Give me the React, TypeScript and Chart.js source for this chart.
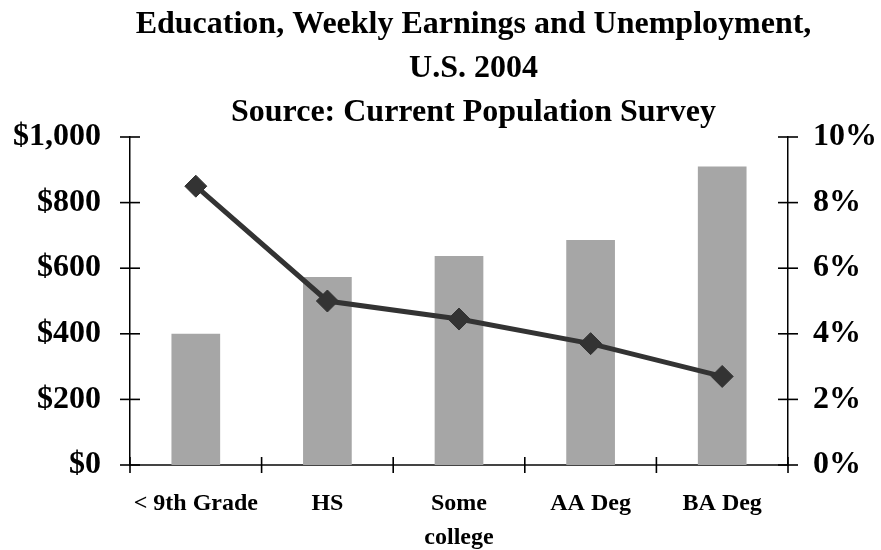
import React, { useEffect, useRef } from "react";
import { Chart, registerables } from "chart.js";

Chart.register(...registerables);

const titleLines = [
  "Education, Weekly Earnings and Unemployment,",
  "U.S. 2004",
  "Source: Current Population Survey",
];
const categories: (string | string[])[] = ["< 9th Grade", "HS", ["Some", "college"], "AA Deg", "BA Deg"];
const earnings = [400, 573, 637, 686, 910];
const unemployment = [8.5, 5.0, 4.45, 3.7, 2.7];
const earningsTicks = [0, 200, 400, 600, 800, 1000];
const rateTicks = [0, 2, 4, 6, 8, 10];

const FONT = "'Liberation Serif', 'Times New Roman', serif";
const TITLE_SIZE = 32;
const TITLE_LH = 1.375;
const TITLE_PAD_TOP = 3;
const TITLE_SHIFT_X = 33;

const crossTicks = {
  id: "crossTicks",
  afterDraw(chart: any) {
    const ctx = chart.ctx;
    const { x, y, y1 } = chart.scales;
    ctx.save();
    ctx.strokeStyle = "#000";
    ctx.lineWidth = 1.6;
    for (const sc of [y, y1]) {
      const ax = sc === y ? sc.right : sc.left;
      sc.ticks.forEach((_: any, i: number) => {
        const py = sc.getPixelForTick(i);
        ctx.beginPath();
        ctx.moveTo(ax - 10, py);
        ctx.lineTo(ax + 10, py);
        ctx.stroke();
      });
    }
    const n = x.ticks.length;
    const step = x.width / n;
    for (let i = 0; i <= n; i++) {
      const px = x.left + i * step;
      ctx.beginPath();
      ctx.moveTo(px, x.top - 8);
      ctx.lineTo(px, x.top + 8);
      ctx.stroke();
    }
    // title, shifted right like the reference
    const tb = chart.titleBlock;
    const lh = TITLE_SIZE * TITLE_LH;
    ctx.fillStyle = "#000";
    ctx.font = `bold ${TITLE_SIZE}px ${FONT}`;
    ctx.textAlign = "center";
    ctx.textBaseline = "middle";
    titleLines.forEach((t, i) => {
      ctx.fillText(t, chart.width / 2 + TITLE_SHIFT_X, tb.top + TITLE_PAD_TOP + (i + 0.5) * lh);
    });
    ctx.restore();
  },
};

export default function App() {
  const ref = useRef<HTMLCanvasElement | null>(null);
  useEffect(() => {
    document.body.style.margin = "0";
    const chart = new Chart(ref.current as HTMLCanvasElement, {
      type: "bar",
      data: {
        labels: categories,
        datasets: [
          {
            type: "line",
            label: "Unemployment",
            data: unemployment,
            yAxisID: "y1",
            borderColor: "#333333",
            backgroundColor: "#333333",
            borderWidth: 5,
            pointStyle: "rectRot",
            pointRadius: 11,
            pointBorderWidth: 1,
            order: 0,
          } as any,
          {
            type: "bar",
            label: "Weekly Earnings",
            data: earnings,
            yAxisID: "y",
            backgroundColor: "#a6a6a6",
            categoryPercentage: 0.37,
            barPercentage: 1,
            order: 1,
          },
        ],
      },
      plugins: [crossTicks],
      options: {
        responsive: false,
        animation: false,
        layout: { padding: 0 },
        plugins: {
          legend: { display: false },
          tooltip: { enabled: false },
          title: {
            display: true,
            text: titleLines,
            color: "rgba(0,0,0,0)",
            font: { family: FONT, size: TITLE_SIZE, weight: "bold", lineHeight: TITLE_LH },
            padding: { top: TITLE_PAD_TOP, bottom: 2 },
          },
        },
        scales: {
          x: {
            grid: { display: false, offset: true, drawTicks: false },
            border: { display: true, color: "#444", width: 2 },
            ticks: {
              color: "#000",
              padding: 22,
              maxRotation: 0,
              font: { family: FONT, size: 24, weight: "bold", lineHeight: 1.42 },
            },
            afterFit: (s: any) => { s.height = 85; },
          },
          y: {
            position: "left",
            min: 0,
            max: 1000,
            afterBuildTicks: (s: any) => { s.ticks = earningsTicks.map((v) => ({ value: v })); },
            grid: { display: false, drawTicks: false },
            border: { display: true, color: "#000", width: 1.5 },
            ticks: {
              color: "#000",
              padding: 29,
              font: { family: FONT, size: 32, weight: "bold" },
              callback: (v: any) => "$" + Number(v).toLocaleString("en-US"),
            },
            afterFit: (s: any) => { s.width = 130; },
          },
          y1: {
            position: "right",
            min: 0,
            max: 10,
            afterBuildTicks: (s: any) => { s.ticks = rateTicks.map((v) => ({ value: v })); },
            grid: { display: false, drawTicks: false },
            border: { display: true, color: "#000", width: 1.5 },
            ticks: {
              color: "#000",
              padding: 25,
              font: { family: FONT, size: 32, weight: "bold" },
              callback: (v: any) => v + "%",
            },
            afterFit: (s: any) => { s.width = 93; },
          },
        },
      },
    });
    return () => chart.destroy();
  }, []);
  return <canvas ref={ref} width={881} height={550} style={{ display: "block" }} />;
}
